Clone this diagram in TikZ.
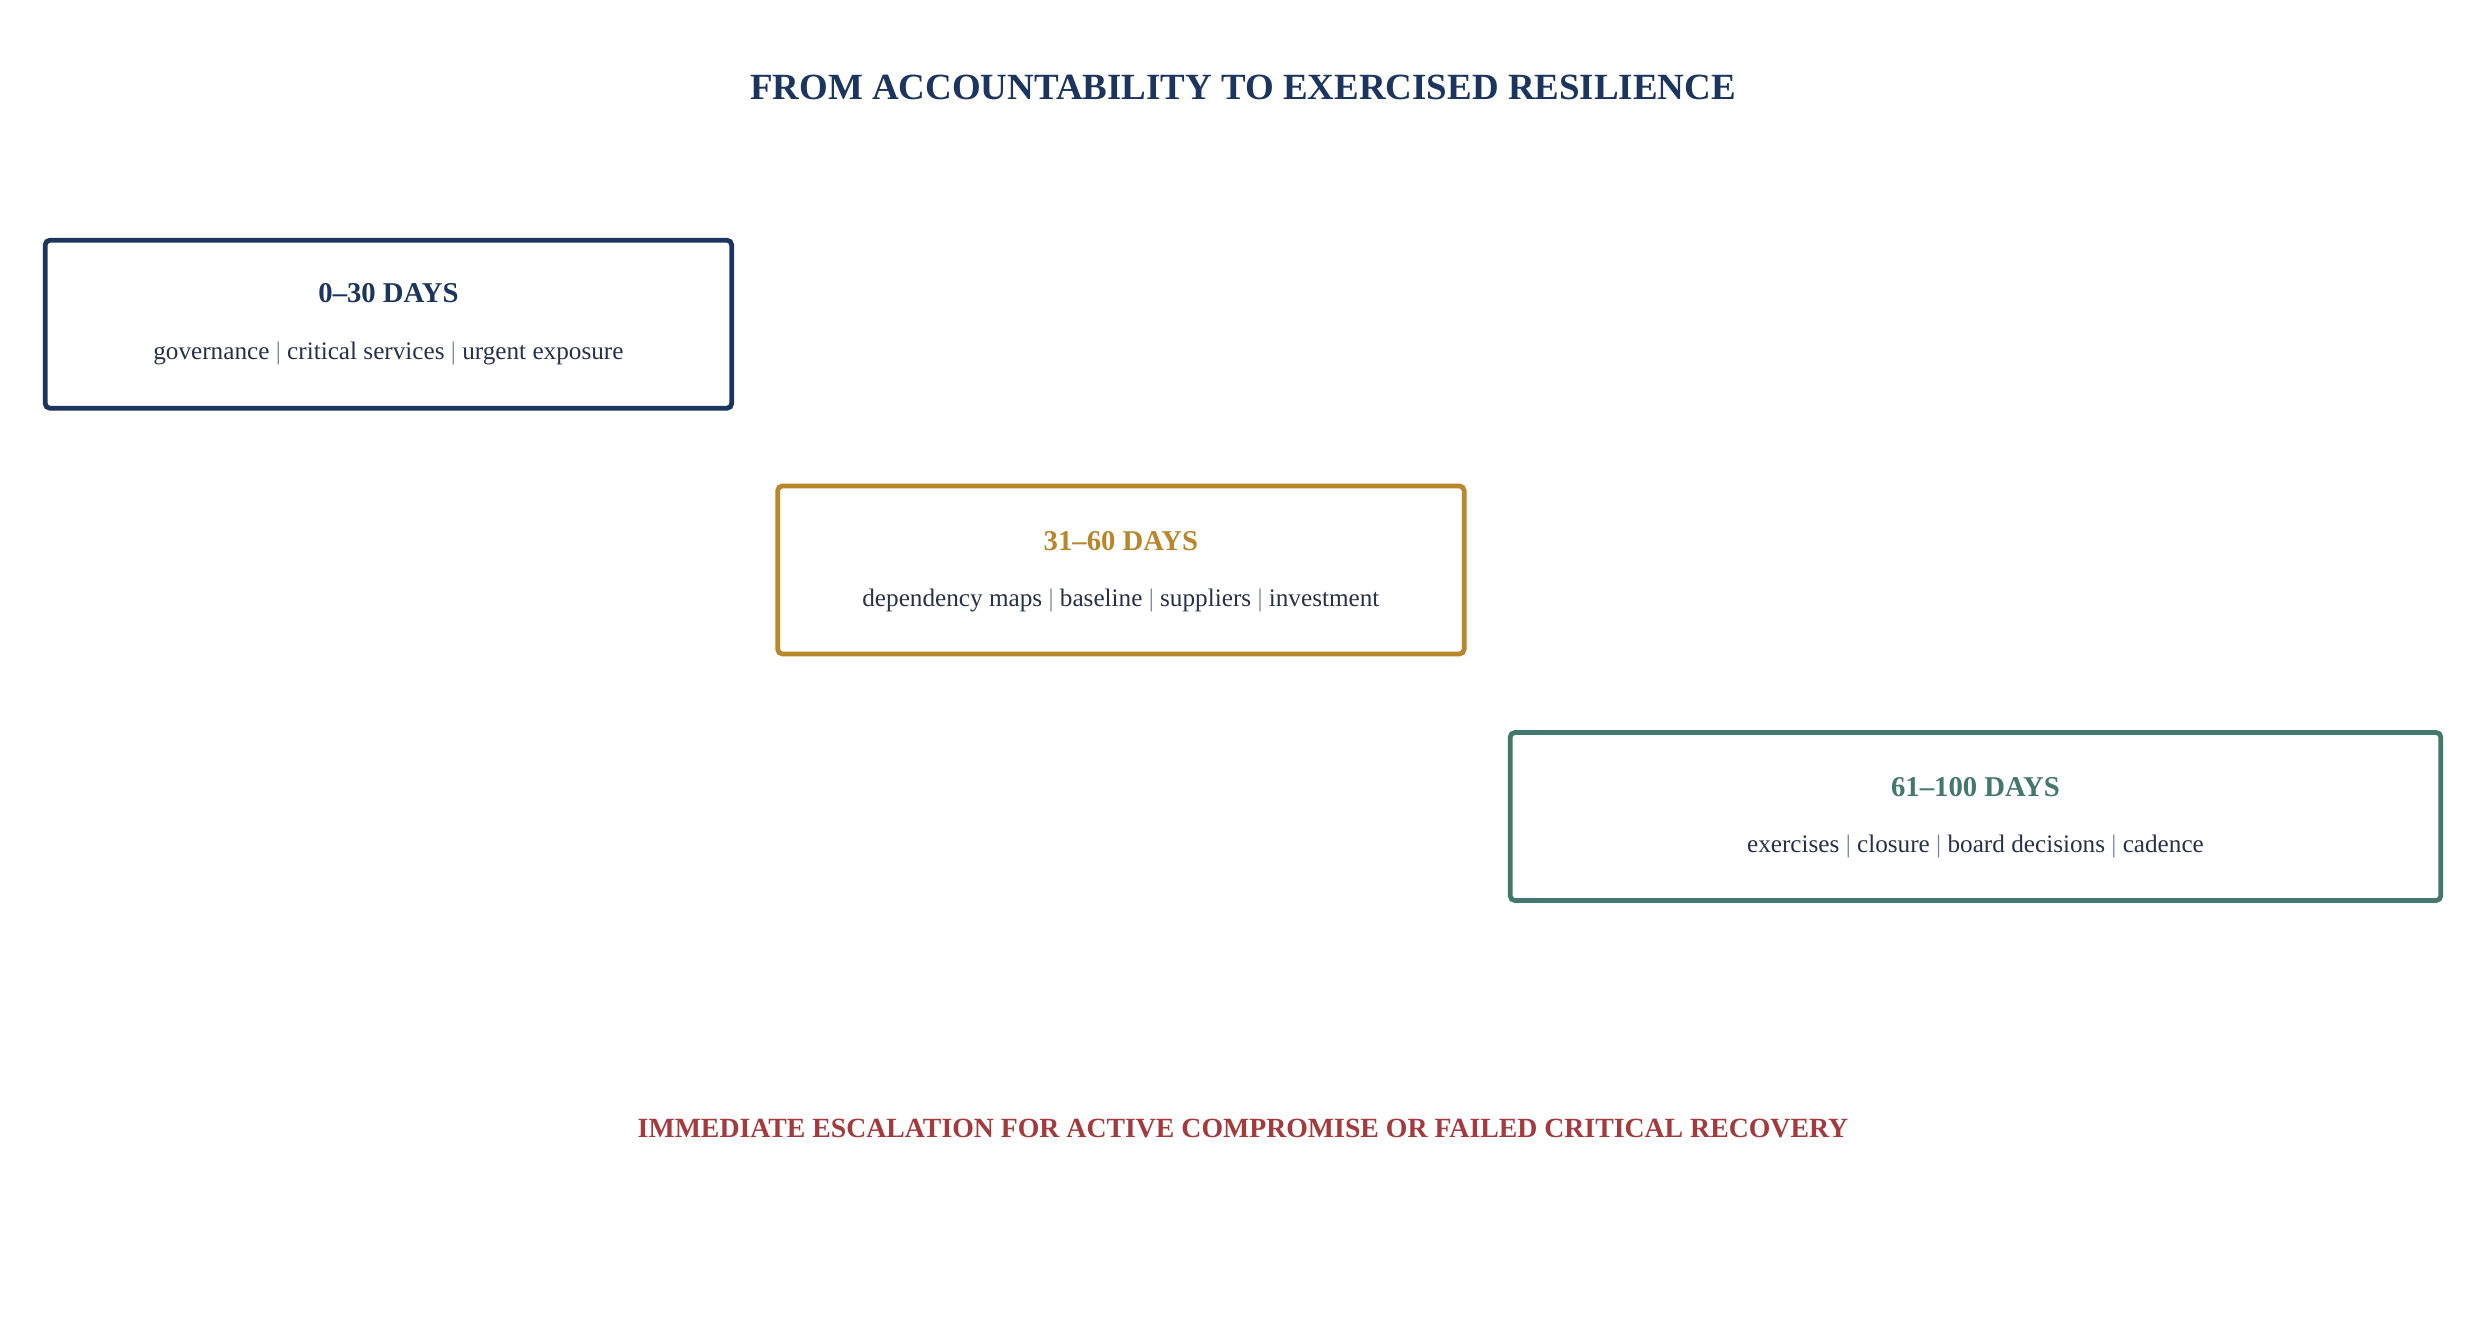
\documentclass[tikz,border=0pt]{standalone}
\usepackage{fontspec}
\setmainfont{Liberation Serif}
\definecolor{navy}{HTML}{1C355E}
\definecolor{gold}{HTML}{B8862B}
\definecolor{teal}{HTML}{44786C}
\definecolor{alert}{HTML}{A23A3E}
\definecolor{bodytxt}{HTML}{273248}
\definecolor{pipe}{HTML}{7A8296}
\newcommand{\sepbar}{\textcolor{pipe}{|}}
\begin{document}
\begin{tikzpicture}[x=0.5pt,y=-0.5pt,
  phasebox/.style={draw, line width=1.5pt, rounded corners=1.5pt, minimum height=53pt, inner sep=0pt, fill=white},
  headtxt/.style={font=\fontsize{9.05}{11}\selectfont\bfseries, inner sep=0pt},
  subtxt/.style={font=\fontsize{7.95}{10}\selectfont, text=bodytxt, inner sep=0pt},
  titletxt/.style={font=\fontsize{11.65}{14}\selectfont\bfseries, text=navy, inner sep=0pt},
  alerttxt/.style={font=\fontsize{8.76}{11}\selectfont\bfseries, text=alert, inner sep=0pt}]
\useasboundingbox (0,0) rectangle (1568,846);
\fill[white] (0,0) rectangle (1568,846);
\node[titletxt] (title) at (784,55) {FROM ACCOUNTABILITY TO EXERCISED RESILIENCE};
% phase 1
\node[phasebox, draw=navy, minimum width=216.5pt] (p1) at (245,204.5) {};
\node[headtxt, text=navy] (p1h) at (245,185) {0–30 DAYS};
\node[subtxt] (p1s) at (245,223) {governance \sepbar{} critical services \sepbar{} urgent exposure};
% phase 2
\node[phasebox, draw=gold, minimum width=216.5pt] (p2) at (707,359.5) {};
\node[headtxt, text=gold] (p2h) at (707,341) {31–60 DAYS};
\node[subtxt] (p2s) at (707,378.5) {dependency maps \sepbar{} baseline \sepbar{} suppliers \sepbar{} investment};
% phase 3
\node[phasebox, draw=teal, minimum width=293.5pt] (p3) at (1246,515) {};
\node[headtxt, text=teal] (p3h) at (1246,496.5) {61–100 DAYS};
\node[subtxt] (p3s) at (1246,534) {exercises \sepbar{} closure \sepbar{} board decisions \sepbar{} cadence};
% escalation
\node[alerttxt] (esc) at (784,712) {IMMEDIATE ESCALATION FOR ACTIVE COMPROMISE OR FAILED CRITICAL RECOVERY};
\end{tikzpicture}
\end{document}
